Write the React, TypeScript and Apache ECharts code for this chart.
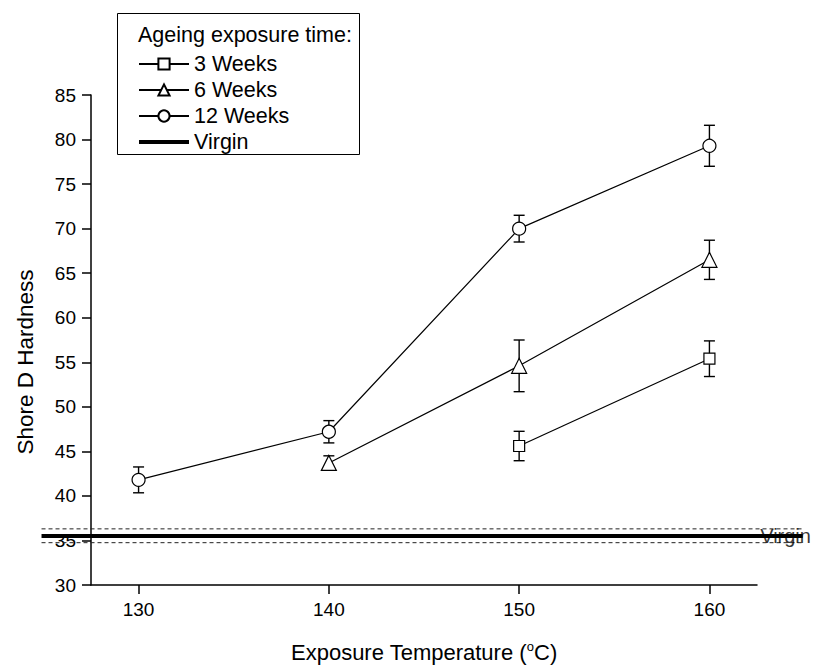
import React, { useEffect, useRef } from "react";
import * as echarts from "echarts";

// Data
const tempTicks = [130, 140, 150, 160];
const yTicksMin = 30;
const yTicksMax = 85;

const temp3w = [150, 160];
const hard3w = [45.6, 55.4];
const err3w = [1.65, 2.0];

const temp6w = [140, 150, 160];
const hard6w = [43.7, 54.6, 66.5];
const err6w = [0.8, 2.9, 2.2];

const temp12w = [130, 140, 150, 160];
const hard12w = [41.8, 47.2, 70.0, 79.3];
const err12w = [1.45, 1.25, 1.5, 2.3];

const virginValue = 35.5;
const virginUpper = 36.3;
const virginLower = 34.75;
const virginSpan = [124.9, 164.9];
const virginLabelX = 164.0;

const FONT = "Liberation Sans, Arial, Helvetica, sans-serif";

export default function App() {
  const ref = useRef<HTMLDivElement>(null);
  useEffect(() => {
    if (!ref.current) return;
    const chart = echarts.init(ref.current, null, { renderer: "svg" });

    const pts = (xs: number[], ys: number[]) => xs.map((x, i) => [x, ys[i]]);
    const errs = (xs: number[], ys: number[], es: number[]) =>
      xs.map((x, i) => [x, ys[i], es[i]]);

    const errData = [
      ...errs(temp3w, hard3w, err3w),
      ...errs(temp6w, hard6w, err6w),
      ...errs(temp12w, hard12w, err12w),
    ];

    const markerStyle = { color: "#fff", borderColor: "#000", borderWidth: 1.2 };
    const lineStyle = { color: "#000", width: 1.2 };

    const option: any = {
      animation: false,
      textStyle: { fontFamily: FONT },
      grid: { left: 91, top: 95, width: 666, height: 490, outerBoundsMode: "none", containLabel: false },
      xAxis: {
        type: "value",
        min: 127.5,
        max: 162.5,
        name: "{a|Exposure Temperature (}{s|o}{a|C)}",
        nameLocation: "middle",
        nameGap: 55,
        nameTextStyle: {
          rich: {
            a: { fontSize: 22, color: "#000", fontFamily: FONT },
            s: { fontSize: 13, color: "#000", fontFamily: FONT, padding: [0, 0, 12, 0] },
          },
        },
        axisLine: { show: true, lineStyle: { color: "#000", width: 1.5 } },
        axisTick: { show: true, length: 9, lineStyle: { color: "#000", width: 1.5 }, customValues: tempTicks },
        axisLabel: { fontSize: 19, color: "#000", margin: 15, fontFamily: FONT, customValues: tempTicks },
        splitLine: { show: false },
      },
      yAxis: {
        type: "value",
        min: yTicksMin,
        max: yTicksMax,
        interval: 5,
        axisLine: { show: true, lineStyle: { color: "#000", width: 1.5 } },
        axisTick: { show: true, length: 9, lineStyle: { color: "#000", width: 1.5 } },
        axisLabel: { fontSize: 19, color: "#000", margin: 15, fontFamily: FONT },
        splitLine: { show: false },
      },
      legend: {
        orient: "vertical",
        left: 137,
        top: 53,
        padding: 0,
        itemWidth: 50,
        itemHeight: 14,
        itemGap: 4,
        z: 10,
        selectedMode: false,
        data: [
          "3 Weeks",
          "6 Weeks",
          "12 Weeks",
          { name: "Virgin", itemStyle: { opacity: 0 }, lineStyle: { width: 4, color: "#000" } },
        ],
        textStyle: { fontSize: 21.5, color: "#000", fontFamily: FONT },
      },
      graphic: [
        {
          type: "rect",
          z: 5,
          shape: { x: 117.5, y: 13.5, width: 242, height: 141 },
          style: { fill: "#fff", stroke: "#000", lineWidth: 1 },
        },
        {
          type: "text",
          z: 10,
          x: 138,
          y: 35,
          style: { text: "Ageing exposure time:", fontSize: 21.5, fill: "#000", fontFamily: FONT, verticalAlign: "middle" },
        },
        {
          type: "text",
          z: 10,
          x: 25,
          y: 362,
          rotation: Math.PI / 2,
          style: {
            text: "Shore D Hardness",
            fontSize: 22.5,
            fill: "#000",
            fontFamily: FONT,
            align: "center",
            verticalAlign: "middle",
          },
        },
      ],
      series: [
        {
          type: "custom",
          name: "err",
          z: 1,
          silent: true,
          data: errData,
          encode: { x: 0, y: 1 },
          renderItem: (params: any, api: any) => {
            const x = api.value(0);
            const y = api.value(1);
            const e = api.value(2);
            const t = api.coord([x, y + e]);
            const b = api.coord([x, y - e]);
            const hw = 5.5;
            const st = { stroke: "#000", lineWidth: 1.4 };
            return {
              type: "group",
              children: [
                { type: "line", shape: { x1: t[0], y1: t[1], x2: b[0], y2: b[1] }, style: st },
                { type: "line", shape: { x1: t[0] - hw, y1: t[1], x2: t[0] + hw, y2: t[1] }, style: st },
                { type: "line", shape: { x1: b[0] - hw, y1: b[1], x2: b[0] + hw, y2: b[1] }, style: st },
              ],
            };
          },
        },
        {
          type: "custom",
          name: "virginBand",
          z: 2,
          clip: false,
          silent: true,
          data: [[virginSpan[0], virginSpan[1], virginValue, virginUpper, virginLower]],
          encode: { x: [0, 1], y: [2, 3, 4] },
          renderItem: (params: any, api: any) => {
            const x0 = api.value(0);
            const x1 = api.value(1);
            const mk = (v: number, style: any) => {
              const a = api.coord([x0, v]);
              const b = api.coord([x1, v]);
              return { type: "line", shape: { x1: a[0], y1: a[1], x2: b[0], y2: b[1] }, style };
            };
            return {
              type: "group",
              children: [
                mk(api.value(3), { stroke: "#222", lineWidth: 1, lineDash: [4, 3] }),
                mk(api.value(4), { stroke: "#222", lineWidth: 1, lineDash: [4, 3] }),
                mk(api.value(2), { stroke: "#000", lineWidth: 4 }),
              ],
            };
          },
        },
        {
          type: "line",
          name: "3 Weeks",
          z: 3,
          data: pts(temp3w, hard3w),
          symbol: "rect",
          symbolSize: 11,
          itemStyle: markerStyle,
          lineStyle,
          silent: true,
        },
        {
          type: "line",
          name: "6 Weeks",
          z: 3,
          data: pts(temp6w, hard6w),
          symbol: "triangle",
          symbolSize: 15,
          itemStyle: markerStyle,
          lineStyle,
          silent: true,
        },
        {
          type: "line",
          name: "12 Weeks",
          z: 3,
          data: pts(temp12w, hard12w),
          symbol: "circle",
          symbolSize: 13,
          itemStyle: markerStyle,
          lineStyle,
          silent: true,
        },
        {
          type: "line",
          name: "Virgin",
          z: 2,
          symbol: "none",
          data: [],
          lineStyle: { color: "#000", width: 4 },
          itemStyle: { color: "#000" },
          silent: true,
        },
        {
          type: "scatter",
          name: "VirginLabel",
          z: 4,
          clip: false,
          symbolSize: 0,
          data: [[virginLabelX, virginValue]],
          label: {
            show: true,
            position: "inside",
            formatter: "Virgin",
            fontSize: 20,
            color: "#000",
            fontFamily: FONT,
          },
          silent: true,
        },
      ],
    };
    chart.setOption(option);
    return () => chart.dispose();
  }, []);
  return (
    <div
      ref={ref}
      style={{ position: "fixed", left: 0, top: 0, width: 815, height: 671, background: "#fff" }}
    />
  );
}
